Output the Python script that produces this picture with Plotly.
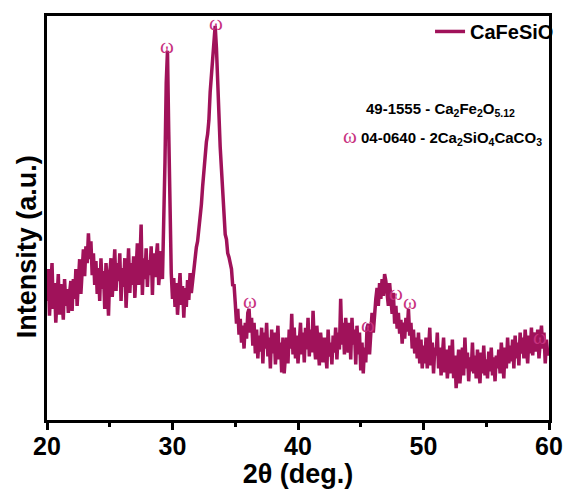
import plotly.graph_objects as go

two_theta_start = 20.0
two_theta_step = 0.1

intensity = [
    120, 152, 105, 142, 158, 112, 138, 98, 130, 147,
    106, 137, 120, 101, 142, 115, 132, 108, 128, 140,
    110, 142, 122, 152, 115, 147, 162, 127, 155, 172,
    145, 175, 158, 188, 162, 180, 146, 168, 136, 160,
    127, 153, 120, 163, 132, 150, 112, 158, 138, 105,
    148, 163, 124, 153, 172, 130, 158, 140, 168, 120,
    153, 134, 163, 113, 148, 173, 128, 158, 136, 165,
    123, 153, 178, 136, 158, 197, 126, 163, 142, 173,
    134, 161, 146, 175, 126, 168, 144, 163, 178, 136,
    153, 170, 142, 188, 260, 340, 372, 290, 188, 148,
    122, 143, 114, 138, 106, 131, 148, 116, 135, 103,
    133, 114, 141, 121, 148, 128, 140, 152, 165, 174,
    180, 192, 198, 217, 235, 252, 262, 280, 288, 302,
    330, 348, 365, 385, 397, 375, 337, 300, 275, 253,
    225, 200, 187, 182, 168, 164, 158, 152, 135, 137,
    118, 97, 112, 86, 102, 78, 95, 72, 98, 82,
    108, 112, 88, 103, 75, 98, 67, 91, 62, 85,
    69, 93, 57, 88, 72, 98, 64, 83, 52, 91,
    67, 88, 56, 81, 95, 61, 78, 48, 83, 47,
    65, 83, 57, 91, 72, 107, 66, 93, 62, 85,
    57, 81, 98, 66, 88, 58, 93, 71, 103, 64,
    91, 68, 110, 77, 61, 95, 66, 55, 88, 71,
    58, 83, 66, 52, 91, 64, 78, 56, 85, 68,
    93, 61, 88, 71, 122, 76, 98, 66, 103, 81,
    68, 98, 61, 103, 76, 91, 56, 95, 66, 88,
    50, 78, 47, 73, 58, 93, 97, 66, 85, 108,
    88, 113, 122, 133, 115, 138, 122, 142, 125, 147,
    140, 127, 115, 138, 117, 107, 128, 97, 115, 92,
    108, 87, 101, 77, 98, 82, 103, 89, 112, 85,
    98, 72, 91, 67, 83, 62, 88, 57, 81, 52,
    75, 57, 83, 52, 71, 93, 55, 78, 47, 73,
    65, 88, 52, 73, 45, 68, 83, 48, 71, 42,
    63, 75, 47, 81, 42, 65, 32, 58, 71, 37,
    61, 73, 45, 83, 52, 68, 39, 63, 49, 78,
    47, 65, 42, 71, 52, 37, 68, 47, 75, 45,
    61, 42, 69, 49, 73, 45, 63, 39, 65, 52,
    71, 47, 78, 55, 42, 73, 52, 83, 57, 75,
    59, 81, 52, 85, 62, 78, 55, 88, 67, 83,
    62, 91, 69, 57, 85, 67, 93, 65, 81, 88,
    69, 91, 62, 83, 95, 72, 88, 57, 81, 65,
    72,
]
two_theta = [round(two_theta_start + i * two_theta_step, 2) for i in range(len(intensity))]

# omega marker positions (2theta, intensity level of label)
omega_x = [29.55, 33.45, 36.2, 45.6, 47.8, 48.9, 59.3]
omega_y = [377, 400, 120, 96, 128, 119, 84]

x_ticks = [20, 30, 40, 50, 60]

line_color = "#A0125A"
omega_color = "#C8327F"

fig = go.Figure()
fig.add_trace(go.Scatter(
    x=two_theta, y=intensity, mode="lines", name="<b>CaFeSiO</b>",
    line=dict(color=line_color, width=3.5),
))

for ox, oy in zip(omega_x, omega_y):
    fig.add_annotation(x=ox, y=oy, text="ω", showarrow=False,
                       font=dict(family="Liberation Serif", size=21, color=omega_color))

fig.add_annotation(xref="paper", yref="paper", x=0.783, y=0.798, xanchor="center",
                   text="<b>49-1555 - Ca<sub>2</sub>Fe<sub>2</sub>O<sub>5.12</sub></b>",
                   showarrow=False, font=dict(family="Arial", size=15, color="black"))
fig.add_annotation(xref="paper", yref="paper", x=0.787, y=0.737, xanchor="center",
                   text="<span style='color:%s;font-family:Liberation Serif;font-size:21px'>ω</span> "
                        "<b>04-0640 - 2Ca<sub>2</sub>SiO<sub>4</sub>CaCO<sub>3</sub></b>" % omega_color,
                   showarrow=False, font=dict(family="Arial", size=15, color="black"))

# y axis title placed as rotated text (sits below the axis centre in the reference)
fig.add_annotation(xref="paper", yref="paper", x=-0.04, y=0.43, xanchor="center", yanchor="middle",
                   text="<b>Intensity (a.u.)</b>", textangle=-90, showarrow=False,
                   font=dict(family="Arial", size=27, color="black"))

fig.update_layout(
    width=571, height=489,
    margin=dict(l=47, r=17, t=13, b=69),
    paper_bgcolor="white", plot_bgcolor="white",
    font=dict(family="Arial", color="black"),
    showlegend=True,
    legend=dict(x=1.02, y=1.01, xanchor="right", yanchor="top",
                bgcolor="rgba(0,0,0,0)", borderwidth=0,
                font=dict(family="Arial", size=20, color="black"),
                itemwidth=30),
    xaxis=dict(
        range=[20, 60], tickvals=x_ticks, ticktext=["<b>%d</b>" % t for t in x_ticks],
        ticks="outside", ticklen=7, tickwidth=3, tickcolor="black",
        minor=dict(ticks="outside", ticklen=4, tickwidth=3, tickcolor="black", dtick=5),
        showline=True, linewidth=3, linecolor="black", mirror=True,
        showgrid=False, zeroline=False, automargin=False,
        ticklabelstandoff=-5,
        tickfont=dict(family="Arial", size=25, color="black"),
        title=dict(text="<b>2θ (deg.)</b>", font=dict(family="Arial", size=27, color="black"), standoff=2),
    ),
    yaxis=dict(
        range=[0, 407], showticklabels=False, ticks="",
        showline=True, linewidth=3, linecolor="black", mirror=True,
        showgrid=False, zeroline=False, automargin=False,
    ),
)

fig.write_html("out.html")
